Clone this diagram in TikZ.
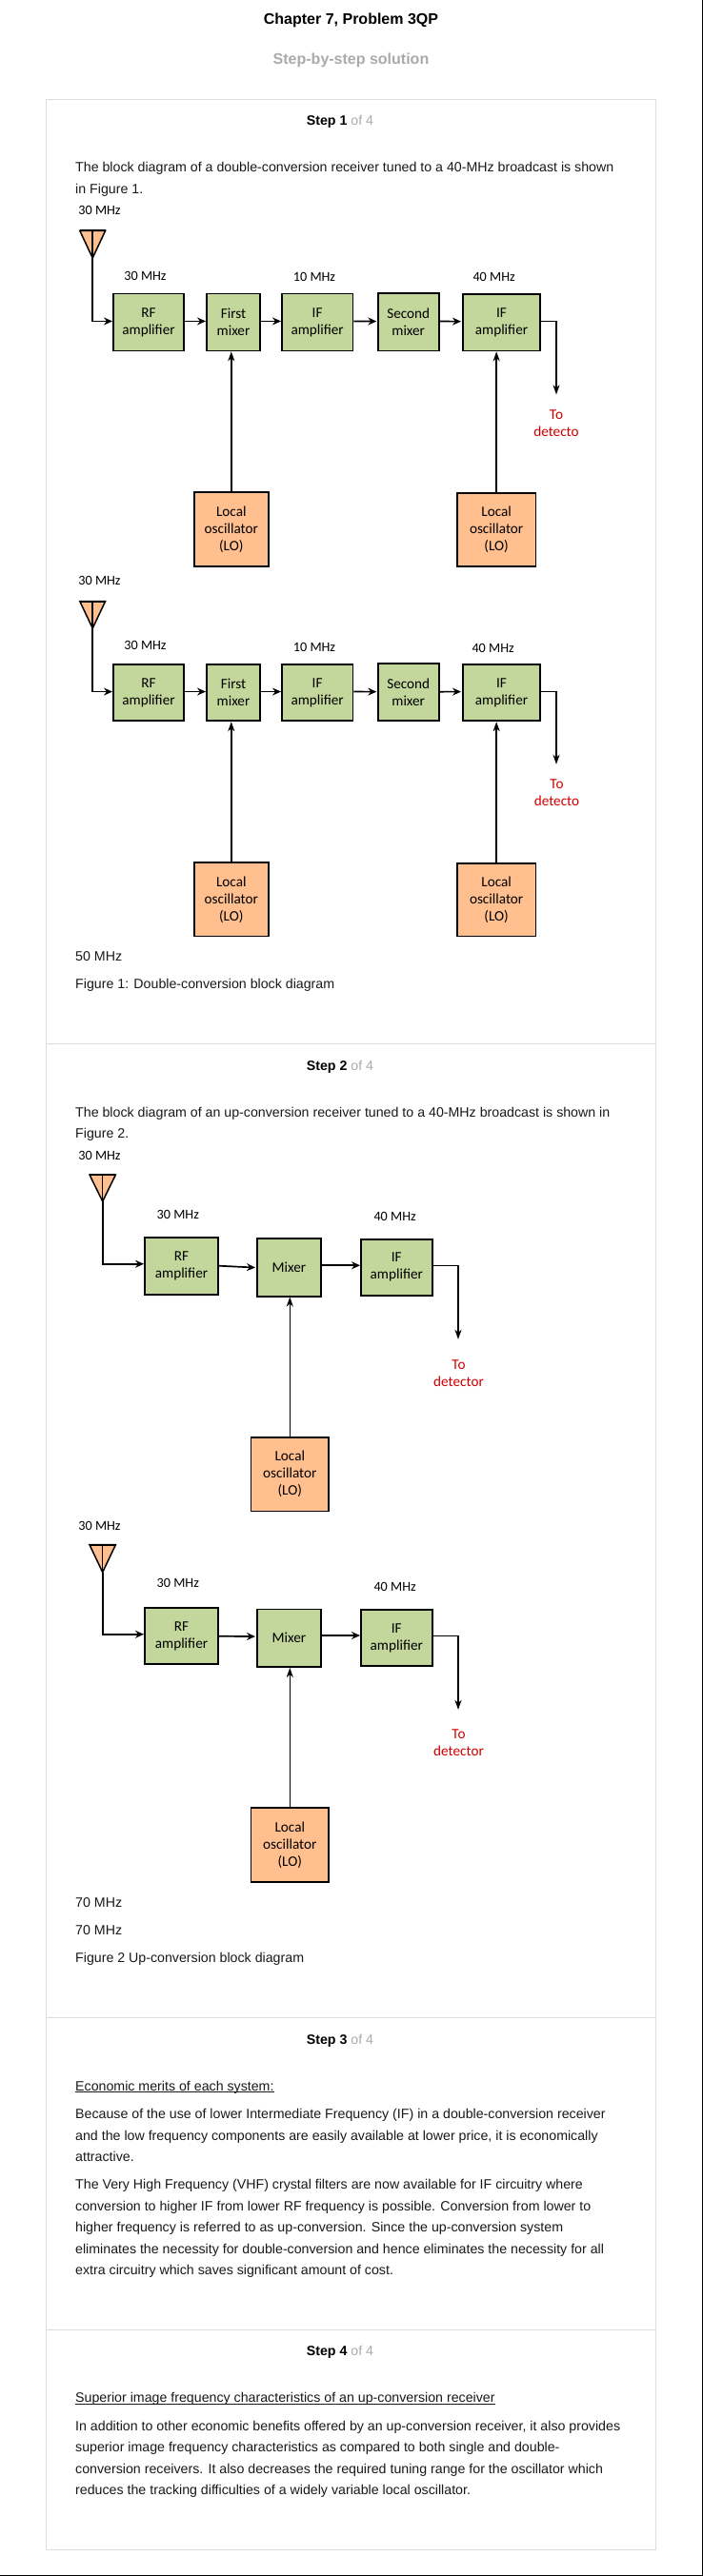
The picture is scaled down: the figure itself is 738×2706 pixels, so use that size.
\documentclass[tikz,border=0pt]{standalone}
\usepackage{fontspec}
\setmainfont{Liberation Sans}
\newfontfamily\boxfont{Carlito}
\newcommand\ulinetxt[1]{\underline{\smash{\mbox{#1}}}}
\usetikzlibrary{arrows.meta}
\definecolor{blockgreen}{HTML}{C3D69B}
\definecolor{blockorange}{HTML}{FFBF8F}
\definecolor{cardline}{HTML}{DDDDDD}
\definecolor{detred}{HTML}{D00000}
\definecolor{stepgray}{HTML}{AAAAAA}
\tikzset{
  x=1pt,y=-1pt,
  body/.style={inner sep=0,anchor=base west,font=\fontsize{14.2}{16}\selectfont,text=black!90},
  freq/.style={inner sep=0,font=\boxfont\fontsize{14.2}{16}\selectfont,text=black},
  stepttl/.style={inner sep=0,anchor=base,font=\fontsize{14.2}{16}\selectfont},
  greenbox/.style={draw=black,fill=blockgreen,line width=1.8pt,inner sep=0,align=center,font=\boxfont\fontsize{15.2}{18}\selectfont},
  orangebox/.style={draw=black,fill=blockorange,line width=1.8pt,inner sep=0,align=center,font=\boxfont\fontsize{15.2}{18}\selectfont},
  reddet/.style={inner sep=0,align=center,text=detred,font=\boxfont\fontsize{15.2}{18}\selectfont},
  conn/.style={draw=black,line width=1.7pt,-{Stealth[length=9pt,width=8pt,inset=3pt]}},
  thinconn/.style={draw=black,line width=1.5pt,-{Stealth[length=10pt,width=7pt,inset=3pt]}},
  antenna/.style={draw=black,fill=blockorange,line width=1.5pt,line join=miter},
  cardedge/.style={draw=cardline,line width=1pt}
}
% name, x1, y1, x2, y2, style, text
\newcommand\blk[7]{%
  \pgfmathsetmacro\bw{#4-#2-1.8}\pgfmathsetmacro\bh{#5-#3-1.8}%
  \node[#6,minimum width=\bw pt,minimum height=\bh pt] (#1) at ({(#2+#4)/2},{(#3+#5)/2}) {#7};}
% name, x left, x right, top y, apex y
\newcommand\ant[5]{%
  \coordinate (#1) at ({(#2+#3)/2},#5);
  \draw[antenna] (#2,#4) -- (#3,#4) -- (#1) -- cycle;
  \draw[line width=1.5pt] ({(#2+#3)/2},#4) -- (#1);
  \draw[line width=2pt] (#2,#4) -- (#3,#4);}
\newcommand\txtline[3]{\node[body] (#1) at (79,#2+5) {#3};}
\newcommand\stp[3]{\node[stepttl] (#1) at (357,#2+5) {\textbf{Step #3} \textcolor{stepgray}{of 4}};}
\begin{document}
\begin{tikzpicture}
\useasboundingbox (0,0) rectangle (738,2706);
\fill[white] (0,0) rectangle (738,2706);
\draw[line width=1pt] (0,2705.5) -- (737.5,2705.5) -- (737.5,0);

\node[inner sep=0,font=\bfseries\fontsize{16}{18}\selectfont] (title) at (368.5,21) {Chapter 7, Problem 3QP};
\node[inner sep=0,text=stepgray,font=\bfseries\fontsize{16}{18}\selectfont] (subtitle) at (368.5,63) {Step-by-step solution};

\draw[cardedge] (48.5,104.8) rectangle (688.5,2678.3);
\draw[cardedge] (48.5,1096.2) -- (688.5,1096.2);
\draw[cardedge] (48.5,2119.3) -- (688.5,2119.3);
\draw[cardedge] (48.5,2447.3) -- (688.5,2447.3);

% ---------- Step 1
\stp{s1}{126}{1}
\txtline{a1}{175}{The block diagram of a double-conversion receiver tuned to a 40-MHz broadcast is shown}
\txtline{a2}{198}{in Figure 1.}

% first diagram
\node[freq] (f1a) at (104.5,221) {30 MHz};
\ant{anta}{83.8}{110.6}{242.4}{271}
\node[freq] (f1b) at (152.5,289.8) {30 MHz};
\node[freq] (f1c) at (330,290.6) {10 MHz};
\node[freq] (f1d) at (518.6,291.4) {40 MHz};
\blk{rfa}{118}{307.6}{194}{369.3}{greenbox}{RF\\amplifier}
\blk{fma}{216}{307.6}{274}{369.3}{greenbox}{First\\mixer}
\blk{ifa}{295}{307.6}{371.3}{369.3}{greenbox}{IF\\amplifier}
\blk{sma}{395.8}{306.8}{461.6}{369.3}{greenbox}{Second\\mixer}
\blk{ifb}{485}{308}{568}{369.3}{greenbox}{IF\\amplifier}
\blk{loa}{202.8}{516.4}{282.8}{595.5}{orangebox}{Local\\oscillator\\(LO)}
\blk{lob}{479}{516.8}{563.3}{595.5}{orangebox}{Local\\oscillator\\(LO)}
\node[reddet] (dta) at (584,444.6) {To\\detecto};
\draw[conn] (anta) |- ([yshift=1pt]rfa.west);
\draw[conn] ([yshift=1pt]rfa.east) -- ([yshift=1pt]fma.west);
\draw[conn] ([yshift=1pt]fma.east) -- ([yshift=1pt]ifa.west);
\draw[conn] ([yshift=1pt]ifa.east) -- ([xshift=-.5pt,yshift=.5pt]sma.west);
\draw[conn] ([yshift=.5pt]sma.east) -- ([xshift=-1pt,yshift=1pt]ifb.west);
\coordinate (enda) at (584,414.4);
\draw[thinconn] ([yshift=1pt]ifb.east) -| (enda);
\draw[thinconn] (loa.north) -- (loa.north |- fma.south);
\draw[thinconn] (lob.north) -- (lob.north |- ifb.south);

% second diagram
\node[freq] (f2a) at (104.5,609.5) {30 MHz};
\ant{antb}{83.8}{110.6}{631.6}{660}
\node[freq] (f2b) at (152.5,677.5) {30 MHz};
\node[freq] (f2c) at (330,679.5) {10 MHz};
\node[freq] (f2d) at (517.6,680.7) {40 MHz};
\blk{rfb}{118}{696.9}{194}{758.2}{greenbox}{RF\\amplifier}
\blk{fmb}{216}{696.9}{274}{758.2}{greenbox}{First\\mixer}
\blk{ifc}{295}{696.9}{371.3}{758.2}{greenbox}{IF\\amplifier}
\blk{smb}{395.8}{696.1}{461.6}{758.2}{greenbox}{Second\\mixer}
\blk{ifd}{485}{697}{568}{758.2}{greenbox}{IF\\amplifier}
\blk{loc}{202.8}{905.3}{282.8}{984.3}{orangebox}{Local\\oscillator\\(LO)}
\blk{lod}{479}{905.7}{563.3}{984.3}{orangebox}{Local\\oscillator\\(LO)}
\node[reddet] (dtb) at (584.5,832.7) {To\\detecto};
\draw[conn] (antb) |- ([yshift=1pt]rfb.west);
\draw[conn] ([yshift=1pt]rfb.east) -- ([yshift=1pt]fmb.west);
\draw[conn] ([yshift=1pt]fmb.east) -- ([yshift=1pt]ifc.west);
\draw[conn] ([yshift=1pt]ifc.east) -- ([xshift=-.5pt,yshift=.5pt]smb.west);
\draw[conn] ([yshift=.5pt]smb.east) -- ([xshift=-1pt,yshift=1pt]ifd.west);
\coordinate (endb) at (584,802.8);
\draw[thinconn] ([yshift=1pt]ifd.east) -| (endb);
\draw[thinconn] (loc.north) -- (loc.north |- fmb.south);
\draw[thinconn] (lod.north) -- (lod.north |- ifd.south);

\txtline{a3}{1004}{50 MHz}
\txtline{a4}{1033.4}{Figure 1: Double-conversion block diagram}

% ---------- Step 2
\stp{s2}{1119}{2}
\txtline{b1}{1168}{The block diagram of an up-conversion receiver tuned to a 40-MHz broadcast is shown in}
\txtline{b2}{1190}{Figure 2.}

% third diagram
\node[freq] (f3a) at (104.5,1213.8) {30 MHz};
\ant{antc}{94}{121.4}{1234}{1262}
\node[freq] (f3b) at (186.8,1275.5) {30 MHz};
\node[freq] (f3c) at (414.6,1278.3) {40 MHz};
\blk{rfc}{151}{1298.9}{230}{1360.5}{greenbox}{RF\\amplifier}
\blk{mxa}{269}{1300}{338}{1362.5}{greenbox}{Mixer}
\blk{ife}{378}{1300.8}{454.6}{1361.7}{greenbox}{IF\\amplifier}
\blk{loe}{262.6}{1509.2}{346}{1588.3}{orangebox}{Local\\oscillator\\(LO)}
\node[reddet] (dtc) at (481.5,1442.6) {To\\detector};
\draw[conn] (antc) |- ([yshift=2pt]rfc.west);
\draw[conn] (rfc.east) -- ([xshift=-1pt,yshift=-.3pt]mxa.west);
\draw[conn] ([yshift=2pt]mxa.east) -- ([yshift=2pt]ife.west);
\coordinate (endc) at (481,1406.8);
\draw[thinconn] ([yshift=2pt]ife.east) -| (endc);
\draw[thinconn] (loe.north) -- (loe.north |- mxa.south);

% fourth diagram
\node[freq] (f4a) at (104.5,1602.5) {30 MHz};
\ant{antd}{94}{121.4}{1622.7}{1651.6}
\node[freq] (f4b) at (186.8,1663.4) {30 MHz};
\node[freq] (f4c) at (414.6,1667.4) {40 MHz};
\blk{rfd}{151}{1688.3}{230}{1749.2}{greenbox}{RF\\amplifier}
\blk{mxb}{269}{1689.5}{338}{1752}{greenbox}{Mixer}
\blk{iff}{378}{1690}{454.6}{1750.8}{greenbox}{IF\\amplifier}
\blk{lof}{262.6}{1898.3}{346}{1977.7}{orangebox}{Local\\oscillator\\(LO)}
\node[reddet] (dtd) at (481.5,1830.5) {To\\detector};
\draw[conn] (antd) |- ([yshift=2pt]rfd.west);
\draw[conn] (rfd.east) -- ([xshift=-1pt,yshift=1.7pt]mxb.west);
\draw[conn] ([yshift=2.7pt]mxb.east) -- ([yshift=2.4pt]iff.west);
\coordinate (endd) at (481,1795.9);
\draw[thinconn] ([yshift=2pt]iff.east) -| (endd);
\draw[thinconn] (lof.north) -- (lof.north |- mxb.south);

\txtline{b3}{1998.3}{70 MHz}
\txtline{b4}{2027}{70 MHz}
\txtline{b5}{2056.3}{Figure 2 Up-conversion block diagram}

% ---------- Step 3
\stp{s3}{2142.3}{3}
\txtline{c1}{2191}{\ulinetxt{Economic merits of each system:}}
\txtline{c2}{2220.3}{Because of the use of lower Intermediate Frequency (IF) in a double-conversion receiver}
\txtline{c3}{2243}{and the low frequency components are easily available at lower price, it is economically}
\txtline{c4}{2265.3}{attractive.}
\txtline{c5}{2294}{The Very High Frequency (VHF) crystal filters are now available for IF circuitry where}
\txtline{c6}{2317}{conversion to higher IF from lower RF frequency is possible. Conversion from lower to}
\txtline{c7}{2339.3}{higher frequency is referred to as up-conversion. Since the up-conversion system}
\txtline{c8}{2362.3}{eliminates the necessity for double-conversion and hence eliminates the necessity for all}
\txtline{c9}{2384.3}{extra circuitry which saves significant amount of cost.}

% ---------- Step 4
\stp{s4}{2469.3}{4}
\txtline{d1}{2518.3}{\ulinetxt{Superior image frequency characteristics of an up-conversion receiver}}
\txtline{d2}{2548}{In addition to other economic benefits offered by an up-conversion receiver, it also provides}
\txtline{d3}{2570.3}{superior image frequency characteristics as compared to both single and double-}
\txtline{d4}{2593.3}{conversion receivers. It also decreases the required tuning range for the oscillator which}
\txtline{d5}{2615.3}{reduces the tracking difficulties of a widely variable local oscillator.}
\end{tikzpicture}
\end{document}
